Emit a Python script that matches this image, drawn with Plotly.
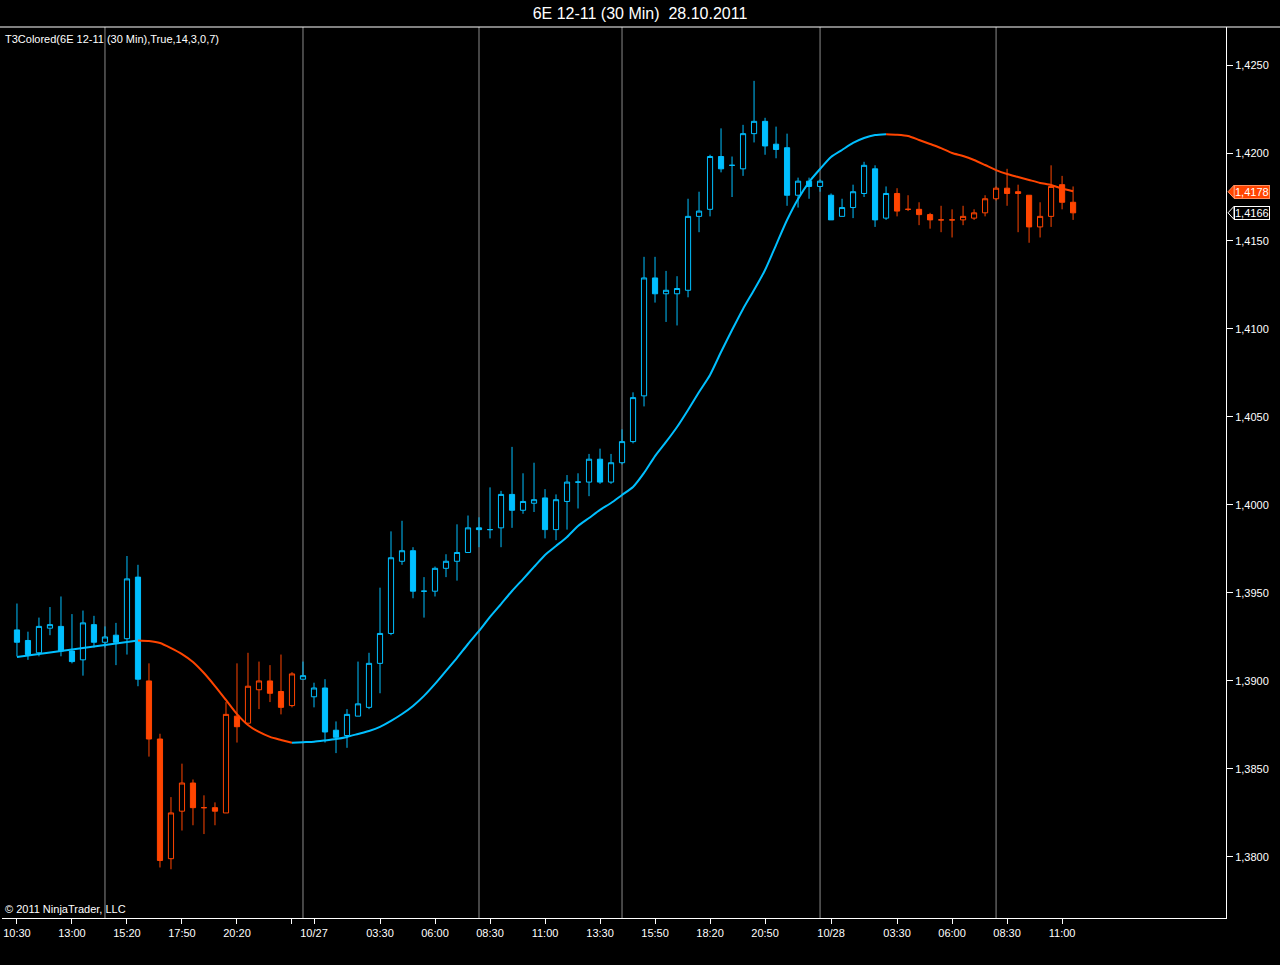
import plotly.graph_objects as go

# ---------------- data ----------------
title_text = "6E 12-11 (30 Min)  28.10.2011"
indicator_text = "T3Colored(6E 12-11 (30 Min),True,14,3,0,7)"
copyright_text = "© 2011 NinjaTrader, LLC"

bar_index = list(range(97))

opens = [
    1.3929, 1.3923, 1.3916, 1.3930, 1.3931, 1.3917, 1.3912, 1.3932, 1.3922, 1.3926,
    1.3924, 1.3959, 1.3900, 1.3867, 1.3799, 1.3826, 1.3842, 1.3828, 1.3828, 1.3825,
    1.3880, 1.3876, 1.3895, 1.3900, 1.3894, 1.3886, 1.3901, 1.3891, 1.3896, 1.3872,
    1.3869, 1.3880, 1.3885, 1.3910, 1.3927, 1.3968, 1.3974, 1.3951, 1.3951, 1.3964,
    1.3968, 1.3973, 1.3987, 1.3986, 1.3987, 1.4006, 1.3997, 1.4001, 1.4004, 1.3986,
    1.4002, 1.4013, 1.4013, 1.4026, 1.4013, 1.4024, 1.4036, 1.4062, 1.4129, 1.4120,
    1.4120, 1.4122, 1.4164, 1.4168, 1.4198, 1.4193, 1.4191, 1.4211, 1.4218, 1.4205,
    1.4203, 1.4176, 1.4184, 1.4181, 1.4176, 1.4164, 1.4169, 1.4177, 1.4191, 1.4163,
    1.4177, 1.4168, 1.4168, 1.4165, 1.4162, 1.4162, 1.4162, 1.4163, 1.4166, 1.4174,
    1.4180, 1.4178, 1.4176, 1.4158, 1.4164, 1.4182, 1.4172,
]
highs = [
    1.3944, 1.3928, 1.3936, 1.3942, 1.3948, 1.3938, 1.3940, 1.3937, 1.3931, 1.3933,
    1.3971, 1.3966, 1.3910, 1.3870, 1.3834, 1.3853, 1.3844, 1.3835, 1.3831, 1.3888,
    1.3910, 1.3916, 1.3911, 1.3909, 1.3915, 1.3905, 1.3911, 1.3899, 1.3901, 1.3877,
    1.3884, 1.3911, 1.3916, 1.3953, 1.3985, 1.3991, 1.3976, 1.3959, 1.3965, 1.3972,
    1.3989, 1.3994, 1.3993, 1.4010, 1.4008, 1.4033, 1.4018, 1.4024, 1.4009, 1.4006,
    1.4017, 1.4018, 1.4029, 1.4032, 1.4029, 1.4043, 1.4064, 1.4141, 1.4141, 1.4133,
    1.4130, 1.4174, 1.4178, 1.4199, 1.4214, 1.4198, 1.4216, 1.4241, 1.4220, 1.4215,
    1.4211, 1.4186, 1.4186, 1.4185, 1.4177, 1.4174, 1.4182, 1.4195, 1.4193, 1.4181,
    1.4180, 1.4176, 1.4172, 1.4166, 1.4170, 1.4168, 1.4170, 1.4168, 1.4176, 1.4181,
    1.4191, 1.4182, 1.4176, 1.4172, 1.4193, 1.4187, 1.4181,
]
lows = [
    1.3914, 1.3912, 1.3914, 1.3926, 1.3914, 1.3910, 1.3903, 1.3919, 1.3919, 1.3909,
    1.3915, 1.3897, 1.3857, 1.3794, 1.3793, 1.3815, 1.3818, 1.3813, 1.3818, 1.3825,
    1.3865, 1.3876, 1.3884, 1.3888, 1.3881, 1.3885, 1.3901, 1.3885, 1.3865, 1.3859,
    1.3862, 1.3880, 1.3884, 1.3893, 1.3926, 1.3966, 1.3947, 1.3936, 1.3948, 1.3959,
    1.3957, 1.3973, 1.3976, 1.3981, 1.3976, 1.3987, 1.3995, 1.3996, 1.3981, 1.3980,
    1.3986, 1.3998, 1.4005, 1.4012, 1.4012, 1.4023, 1.4035, 1.4056, 1.4115, 1.4104,
    1.4102, 1.4118, 1.4155, 1.4164, 1.4189, 1.4175, 1.4187, 1.4206, 1.4199, 1.4197,
    1.4170, 1.4169, 1.4174, 1.4178, 1.4162, 1.4164, 1.4163, 1.4175, 1.4158, 1.4162,
    1.4164, 1.4167, 1.4159, 1.4157, 1.4155, 1.4152, 1.4159, 1.4162, 1.4164, 1.4173,
    1.4170, 1.4155, 1.4149, 1.4152, 1.4158, 1.4168, 1.4162,
]
closes = [
    1.3922, 1.3915, 1.3931, 1.3932, 1.3917, 1.3911, 1.3933, 1.3922, 1.3925, 1.3922,
    1.3958, 1.3901, 1.3867, 1.3798, 1.3825, 1.3842, 1.3828, 1.3828, 1.3826, 1.3881,
    1.3874, 1.3897, 1.3900, 1.3893, 1.3885, 1.3904, 1.3903, 1.3896, 1.3871, 1.3868,
    1.3881, 1.3887, 1.3910, 1.3927, 1.3970, 1.3974, 1.3951, 1.3951, 1.3964, 1.3968,
    1.3973, 1.3987, 1.3986, 1.3986, 1.4006, 1.3997, 1.4002, 1.4003, 1.3986, 1.4003,
    1.4013, 1.4013, 1.4026, 1.4013, 1.4024, 1.4036, 1.4061, 1.4129, 1.4120, 1.4122,
    1.4123, 1.4164, 1.4167, 1.4198, 1.4191, 1.4193, 1.4211, 1.4218, 1.4204, 1.4202,
    1.4176, 1.4184, 1.4181, 1.4184, 1.4162, 1.4169, 1.4178, 1.4193, 1.4162, 1.4177,
    1.4167, 1.4168, 1.4165, 1.4162, 1.4162, 1.4162, 1.4164, 1.4166, 1.4174, 1.4180,
    1.4177, 1.4177, 1.4158, 1.4164, 1.4181, 1.4172, 1.4166,
]
t3_values = [
    1.39136, 1.39145, 1.39153, 1.39162, 1.39170, 1.39179, 1.39187, 1.39196, 1.39204, 1.39213,
    1.39221, 1.39230, 1.39227, 1.39216, 1.39187, 1.39153, 1.39108, 1.39045, 1.38971, 1.38892,
    1.38812, 1.38750, 1.38710, 1.38682, 1.38665, 1.38649, 1.38652, 1.38655, 1.38662, 1.38670,
    1.38682, 1.38699, 1.38716, 1.38739, 1.38773, 1.38812, 1.38858, 1.38915, 1.38983, 1.39057,
    1.39131, 1.39210, 1.39284, 1.39364, 1.39437, 1.39511, 1.39579, 1.39648, 1.39716, 1.39767,
    1.39818, 1.39881, 1.39926, 1.39972, 1.40011, 1.40057, 1.40102, 1.40182, 1.40278, 1.40358,
    1.40443, 1.40540, 1.40642, 1.40739, 1.40869, 1.40994, 1.41114, 1.41222, 1.41335, 1.41477,
    1.41619, 1.41739, 1.41835, 1.41909, 1.41977, 1.42017, 1.42057, 1.42085, 1.42102, 1.42107,
    1.42104, 1.42097, 1.42074, 1.42051, 1.42028, 1.42000, 1.41983, 1.41960, 1.41932, 1.41903,
    1.41881, 1.41864, 1.41847, 1.41830, 1.41818, 1.41798, 1.41783,
]

x_tick_positions = [0, 5, 10, 15, 20, 25, 27, 33, 38, 43, 48, 53, 58, 63, 68, 74, 80, 85, 90, 95]
x_tick_labels = ["10:30", "13:00", "15:20", "17:50", "20:20", "", "10/27", "03:30", "06:00",
                 "08:30", "11:00", "13:30", "15:50", "18:20", "20:50", "10/28", "03:30",
                 "06:00", "08:30", "11:00"]
session_breaks = [8, 26, 42, 55, 73, 89]
price_ticks = [1.3800, 1.3850, 1.3900, 1.3950, 1.4000, 1.4050, 1.4100, 1.4150, 1.4200, 1.4250]

# ---------------- styling ----------------
BLUE = "#00BFFF"
ORANGE = "#FF4500"
FONT = "Liberation Sans, Arial, sans-serif"

n = len(bar_index)
up = [True] + [t3_values[i] > t3_values[i - 1] for i in range(1, n)]

fig = go.Figure()


def candles(idx, color):
    return go.Candlestick(
        x=[bar_index[i] for i in idx],
        open=[opens[i] for i in idx],
        high=[highs[i] for i in idx],
        low=[lows[i] for i in idx],
        close=[closes[i] for i in idx],
        increasing=dict(line=dict(color=color, width=1), fillcolor="#000000"),
        decreasing=dict(line=dict(color=color, width=1), fillcolor=color),
        whiskerwidth=0,
        hoverinfo="skip",
        showlegend=False,
    )


fig.add_trace(candles([i for i in range(n) if up[i]], BLUE))
fig.add_trace(candles([i for i in range(n) if not up[i]], ORANGE))

blue_line = [t3_values[i] if (up[i] or (i + 1 < n and up[i + 1])) else None for i in range(n)]
orange_line = [t3_values[i] if ((not up[i]) or (i + 1 < n and not up[i + 1])) else None for i in range(n)]

fig.add_trace(go.Scatter(x=bar_index, y=blue_line, mode="lines",
                         line=dict(color=BLUE, width=2, shape="spline", smoothing=0.6),
                         connectgaps=False, hoverinfo="skip", showlegend=False))
fig.add_trace(go.Scatter(x=bar_index, y=orange_line, mode="lines",
                         line=dict(color=ORANGE, width=2, shape="spline", smoothing=0.6),
                         connectgaps=False, hoverinfo="skip", showlegend=False))

shapes = []
for b in session_breaks:
    shapes.append(dict(type="line", xref="x", yref="paper", x0=b, x1=b, y0=0, y1=1,
                       line=dict(color="#8a8a8a", width=1), layer="below"))
# top border of the panel
shapes.append(dict(type="line", xref="paper", yref="paper", x0=-0.01, x1=1.05, y0=1, y1=1,
                   line=dict(color="white", width=1)))

# price markers on the axis
px = 1.0 / 1224.0
tick_h = 6.5 / 17600.0


def tag(value, fill, border):
    shapes.append(dict(type="path", xref="paper", yref="y",
                       path=f"M {1 + 2 * px},{value} L {1 + 8 * px},{value + tick_h} "
                            f"L {1 + 8 * px},{value - tick_h} Z",
                       fillcolor=fill, line=dict(color=border, width=1)))
    return dict(xref="paper", yref="y", x=1 + 8 * px, y=value, xanchor="left", yanchor="middle",
                text=f"{value:.4f}".replace(".", ","), showarrow=False,
                font=dict(family=FONT, size=11, color="white"),
                bgcolor=fill, bordercolor=border, borderwidth=1, borderpad=0)


annotations = [
    tag(round(t3_values[-1], 4), ORANGE, "#FF9060"),
    tag(closes[-1], "#000000", "#FFFFFF"),
    dict(xref="paper", yref="paper", x=0, y=1, xanchor="left", yanchor="top",
         xshift=1, yshift=-4, text=indicator_text, showarrow=False,
         font=dict(family=FONT, size=11, color="white")),
    dict(xref="paper", yref="paper", x=0, y=0, xanchor="left", yanchor="bottom",
         xshift=1, yshift=1, text=copyright_text, showarrow=False,
         font=dict(family=FONT, size=11, color="white")),
]

fig.update_layout(
    width=1280, height=965,
    paper_bgcolor="black", plot_bgcolor="black",
    margin=dict(l=2, r=54, t=27, b=47),
    separators=",.",
    showlegend=False,
    font=dict(family=FONT, size=11, color="white"),
    title=dict(text=title_text, x=0.5, xref="container", xanchor="center",
               y=1 - 13.0 / 965.0, yref="container", yanchor="middle",
               font=dict(family=FONT, size=16, color="white")),
    xaxis=dict(range=[-1.36, 109.9], tickmode="array", tickvals=x_tick_positions,
               ticktext=x_tick_labels, ticks="outside", ticklen=5, tickcolor="white",
               showgrid=False, zeroline=False, showline=True, linecolor="white", linewidth=1,
               rangeslider=dict(visible=False), tickfont=dict(family=FONT, size=11, color="white")),
    yaxis=dict(side="right", range=[1.37653, 1.42716], tickmode="array", tickvals=price_ticks,
               tickformat=".4f", ticks="outside", ticklen=6, tickcolor="white",
               showgrid=False, zeroline=False, showline=True, linecolor="white", linewidth=1,
               tickfont=dict(family=FONT, size=11, color="white")),
    shapes=shapes,
    annotations=annotations,
    boxgap=0.33,
)

fig.write_html("out.html", config={"displayModeBar": False},
               post_script="document.body.style.margin='0';document.body.style.background='black';")
